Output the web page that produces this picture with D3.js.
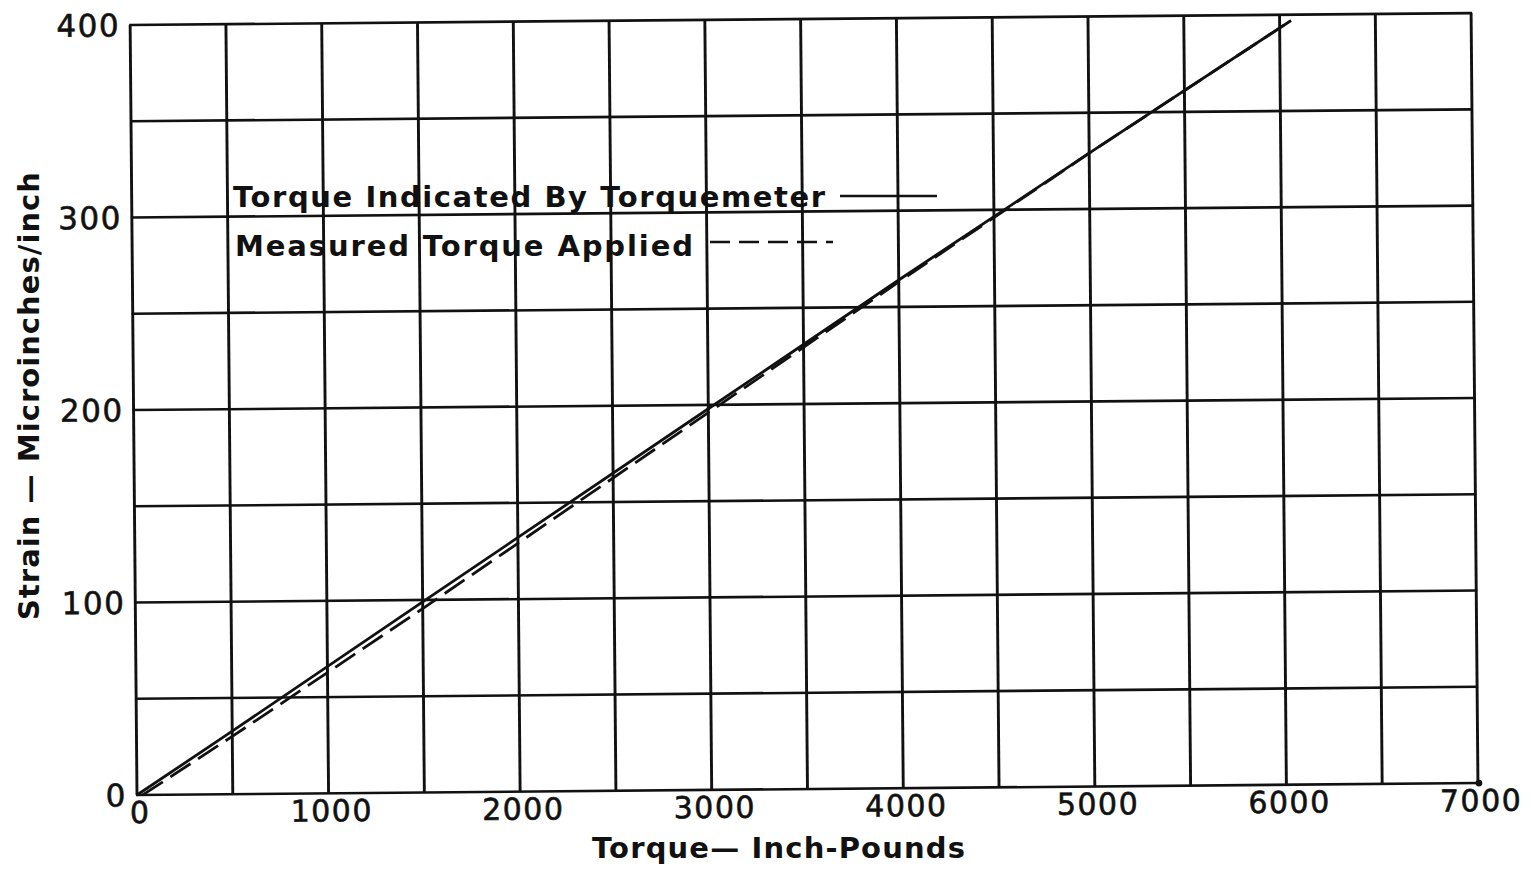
<!DOCTYPE html>
<html>
<head>
<meta charset="utf-8">
<script src="https://cdn.jsdelivr.net/npm/d3@7"></script>
<style>
  html, body { margin: 0; padding: 0; background: #fff; }
  svg { display: block; }
  text { font-family: "DejaVu Sans", sans-serif; fill: #111; }
</style>
</head>
<body>
<svg id="chart" width="1531" height="870"></svg>
<script>
// Torque (inch-pounds) vs strain (microinches/inch)
const xTicks = [0, 1000, 2000, 3000, 4000, 5000, 6000, 7000];
const yTicks = [0, 100, 200, 300, 400];
const xGrid = d3.range(0, 7001, 500);
const yGrid = d3.range(0, 401, 50);

// Torque indicated by torquemeter (solid)
const indicatedTorque = [0, 500, 1500, 3000, 4000, 5000, 6060];
const indicatedStrain = [0, 32.7, 99, 198, 264, 329, 397];

// Measured torque applied (dashed)
const measuredTorque = [30, 500, 1500, 3000, 4000, 5000, 6060];
const measuredStrain = [0, 30, 95.5, 196, 263, 329, 397];

const legendLabels = ["Torque Indicated By Torquemeter", "Measured Torque Applied"];
const xTitle = "Torque\u2014 Inch-Pounds";
const yTitle = "Strain \u2014 Microinches/inch";

const svg = d3.select("#chart");
const x0 = 137, y0 = 795, plotW = 1341, plotH = 770;

const x = d3.scaleLinear().domain([0, 7000]).range([x0, x0 + plotW]);
const y = d3.scaleLinear().domain([0, 400]).range([y0, y0 - plotH]);

// the drawn sheet sits slightly askew
const g = svg.append("g").attr("transform", `rotate(-0.51, ${x0}, ${y0})`);

const ink = "#111";

// grid
g.append("g").selectAll("line").data(xGrid).join("line")
  .attr("x1", d => x(d)).attr("x2", d => x(d))
  .attr("y1", y(0)).attr("y2", y(400))
  .attr("stroke", ink).attr("stroke-width", 2.9);
g.append("g").selectAll("line").data(yGrid).join("line")
  .attr("x1", x(0) - 1).attr("x2", x(7000) + 1)
  .attr("y1", d => y(d)).attr("y2", d => y(d))
  .attr("stroke", ink).attr("stroke-width", 2.6);

// small arrowhead at axis end
g.append("circle").attr("cx", x(7000) + 1).attr("cy", y(0)).attr("r", 3.4).attr("fill", ink);

// x tick labels
g.append("g").selectAll("text").data(xTicks).join("text")
  .attr("x", d => x(d) + 3).attr("y", y(0) + 28)
  .attr("text-anchor", "middle")
  .style("font-size", "30px").style("letter-spacing", "1.5px")
  .style("stroke", ink).style("stroke-width", "0.6px")
  .text(d => d);

// y tick labels
g.append("g").selectAll("text").data(yTicks).join("text")
  .attr("x", x(0) - 10).attr("y", d => y(d))
  .attr("dy", "0.36em")
  .attr("text-anchor", "end")
  .style("font-size", "31px").style("letter-spacing", "1.5px")
  .style("stroke", ink).style("stroke-width", "0.6px")
  .text(d => d);

// series
const line = d3.line().x(d => x(d[0])).y(d => y(d[1]));
g.append("path")
  .datum(d3.zip(indicatedTorque, indicatedStrain))
  .attr("d", line).attr("fill", "none")
  .attr("stroke", ink).attr("stroke-width", 2.8);
g.append("path")
  .datum(d3.zip(measuredTorque, measuredStrain))
  .attr("d", line).attr("fill", "none")
  .attr("stroke", ink).attr("stroke-width", 2.8)
  .attr("stroke-dasharray", "24 9");

// legend
const legend = svg.append("g");
legend.append("text").attr("x", 233).attr("y", 207)
  .attr("textLength", 592).attr("lengthAdjust", "spacing")
  .style("font-size", "29px").style("font-weight", "bold")
  .text(legendLabels[0]);
legend.append("line").attr("x1", 840).attr("x2", 937).attr("y1", 196).attr("y2", 196)
  .attr("stroke", ink).attr("stroke-width", 2.6);
legend.append("text").attr("x", 235).attr("y", 256)
  .attr("textLength", 458).attr("lengthAdjust", "spacing")
  .style("font-size", "29px").style("font-weight", "bold")
  .text(legendLabels[1]);
legend.append("line").attr("x1", 710).attr("x2", 833).attr("y1", 242).attr("y2", 242)
  .attr("stroke", ink).attr("stroke-width", 2.6)
  .attr("stroke-dasharray", "20 9");

// axis titles
svg.append("text").attr("x", 592).attr("y", 858)
  .attr("textLength", 373).attr("lengthAdjust", "spacing")
  .style("font-size", "29px").style("font-weight", "bold")
  .text(xTitle);
svg.append("text")
  .attr("transform", "translate(39, 620) rotate(-90)")
  .attr("textLength", 448).attr("lengthAdjust", "spacing")
  .style("font-size", "29px").style("font-weight", "bold")
  .text(yTitle);
</script>
</body>
</html>
